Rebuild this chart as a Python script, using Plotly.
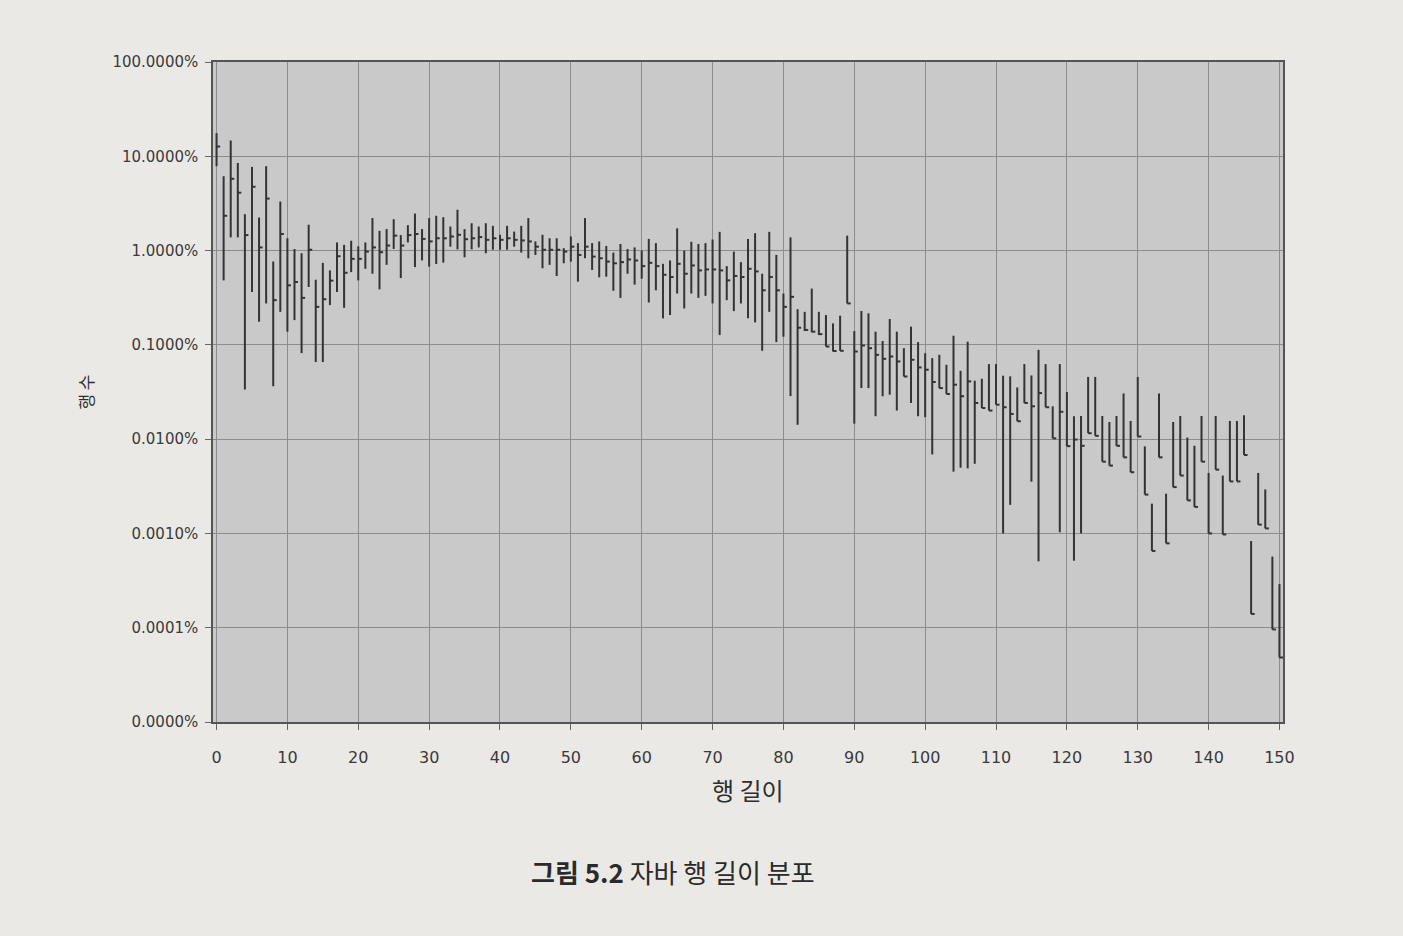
import plotly.graph_objects as go

# line length categories
line_length = list(range(0, 151))

# share of lines (percent): high, low, close
high = [17.6, 6.15, 14.7, 8.5, 2.43, 7.72, 2.24, 7.85, 0.766, 3.31,
        1.35, 1.04, 0.937, 1.88, 0.491, 0.741, 0.616, 1.22, 1.15, 1.27,
        1.11, 1.22, 2.21, 1.62, 1.69, 2.15, 1.46, 1.86, 2.47, 1.69,
        2.21, 2.34, 2.26, 1.80, 2.71, 1.69, 1.95, 1.80, 1.95, 1.83,
        1.47, 1.83, 1.59, 1.83, 2.21, 1.25, 1.47, 1.35, 1.35, 1.06,
        1.41, 1.20, 2.21, 1.20, 1.25, 1.12, 0.952, 1.175, 1.04, 1.08,
        1.0, 1.33, 1.20, 0.724, 0.785, 1.72, 1.0, 1.24, 1.175, 1.20,
        1.31, 1.58, 0.684, 0.976, 0.754, 1.33, 1.53, 0.568, 1.58, 0.900,
        0.350, 1.38, 0.239, 0.224, 0.395, 0.224, 0.207, 0.169, 0.204, 1.44,
        0.140, 0.229, 0.216, 0.138, 0.110, 0.188, 0.138, 0.0922, 0.156, 0.107,
        0.0816, 0.0723, 0.0784, 0.0615, 0.125, 0.0531, 0.108, 0.0417, 0.0437, 0.0625,
        0.0625, 0.0471, 0.0463, 0.0354, 0.0625, 0.0474, 0.0885, 0.0625, 0.0223, 0.0625,
        0.0316, 0.0175, 0.0176, 0.0457, 0.0457, 0.0176, 0.0152, 0.0176, 0.0305, 0.0156,
        0.0457, 0.00838, 0.00207, 0.0305, 0.00264, 0.0152, 0.0176, 0.0104, 0.0085, 0.0176,
        0.00438, 0.0176, 0.00411, 0.0156, 0.0156, 0.0179, 0.00083, 0.00438, 0.00293, 0.000568,
        0.00029]
low = [7.85, 0.483, 1.38, 1.38, 0.0336, 0.364, 0.176, 0.275, 0.0364, 0.224,
       0.138, 0.183, 0.0817, 0.411, 0.0657, 0.0657, 0.264, 0.364, 0.247, 0.591,
       0.483, 0.641, 0.568, 0.388, 0.706, 1.04, 0.511, 1.22, 0.668, 0.785,
       0.676, 0.721, 0.745, 1.10, 1.03, 0.849, 1.03, 1.08, 0.937, 1.02,
       1.02, 1.02, 1.10, 0.952, 0.829, 0.899, 0.649, 0.705, 0.538, 0.733,
       0.764, 0.468, 0.829, 0.623, 0.520, 0.529, 0.375, 0.315, 0.568, 0.435,
       0.503, 0.281, 0.379, 0.191, 0.207, 0.350, 0.243, 0.350, 0.315, 0.331,
       0.275, 0.127, 0.298, 0.228, 0.275, 0.191, 0.173, 0.0865, 0.224, 0.107,
       0.122, 0.0286, 0.0142, 0.140, 0.136, 0.127, 0.096, 0.085, 0.0865, 0.275,
       0.0146, 0.0348, 0.0348, 0.0175, 0.0285, 0.0296, 0.0201, 0.0462, 0.0242, 0.0175,
       0.0171, 0.00689, 0.0348, 0.0301, 0.00452, 0.00498, 0.0049, 0.00548, 0.0214, 0.0201,
       0.0232, 0.001, 0.00201, 0.0155, 0.0242, 0.00354, 0.000506, 0.0218, 0.0102, 0.00103,
       0.00843, 0.000514, 0.001, 0.01156, 0.01084, 0.00577, 0.00524, 0.0085, 0.00641, 0.00446,
       0.01067, 0.00258, 0.000652, 0.00641, 0.000785, 0.0031, 0.00411, 0.00224, 0.00191, 0.00577,
       0.001, 0.00475, 0.000976, 0.00356, 0.00356, 0.00679, 0.00014, 0.00124, 0.00113, 0.0000959,
       0.0000483]
close = [12.7, 2.34, 5.77, 4.11, 1.46, 4.75, 1.08, 3.56, 0.298, 1.50,
         0.428, 0.464, 0.315, 1.02, 0.253, 0.305, 0.480, 0.871, 0.582, 0.817,
         0.817, 0.976, 1.08, 0.960, 1.13, 1.44, 1.13, 1.46, 1.50, 1.33,
         1.25, 1.35, 1.35, 1.41, 1.47, 1.32, 1.35, 1.39, 1.30, 1.35,
         1.30, 1.35, 1.30, 1.28, 1.25, 1.10, 1.02, 1.02, 1.02, 0.976,
         1.10, 0.899, 1.10, 0.863, 0.829, 0.764, 0.733, 0.754, 0.804, 0.785,
         0.684, 0.741, 0.684, 0.554, 0.524, 0.724, 0.568, 0.695, 0.616, 0.631,
         0.631, 0.616, 0.483, 0.537, 0.524, 0.641, 0.601, 0.379, 0.524, 0.379,
         0.253, 0.323, 0.152, 0.144, 0.138, 0.130, 0.096, 0.086, 0.0865, 0.275,
         0.085, 0.0984, 0.0922, 0.0784, 0.0711, 0.0753, 0.0667, 0.0462, 0.0695, 0.0576,
         0.0545, 0.0404, 0.0348, 0.0301, 0.0378, 0.0285, 0.041, 0.0242, 0.0214, 0.0201,
         0.0232, 0.0218, 0.0185, 0.0155, 0.0242, 0.0223, 0.0308, 0.0218, 0.0102, 0.0195,
         0.00843, 0.0099, 0.0085, 0.01156, 0.01084, 0.00577, 0.00524, 0.0085, 0.00641, 0.00446,
         0.01067, 0.00258, 0.000652, 0.00641, 0.000785, 0.0031, 0.00411, 0.00224, 0.00191, 0.00577,
         0.001, 0.00475, 0.000976, 0.00356, 0.00356, 0.00679, 0.00014, 0.00124, 0.00113, 0.0000959,
         0.0000483]

y_tick_vals = [100, 10, 1, 0.1, 0.01, 0.001, 0.0001, 0.00001]
y_tick_text = ["100.0000%", "10.0000%", "1.0000%", "0.1000%", "0.0100%",
               "0.0010%", "0.0001%", "0.0000%"]
x_tick_vals = list(range(0, 151, 10))

x_title = "행 길이"
y_title = "행 수"
caption = "<b>그림 5.2</b> 자바 행 길이 분포"

TICK = 0.5  # length of the close tick, in x units
bar_color = "#333333"
page_color = "#ebe9e6"

bx, by, tx, ty = [], [], [], []
for x, h, l, c in zip(line_length, high, low, close):
    bx += [x, x, None]
    by += [l, h, None]
    tx += [x, x + TICK, None]
    ty += [c, c, None]

fig = go.Figure()
fig.add_trace(go.Scatter(x=bx, y=by, mode="lines",
                         line=dict(color=bar_color, width=2), showlegend=False,
                         hoverinfo="skip"))
fig.add_trace(go.Scatter(x=tx, y=ty, mode="lines",
                         line=dict(color=bar_color, width=2), showlegend=False,
                         hoverinfo="skip"))

font_main = "DejaVu Sans, Verdana, sans-serif"
font_kr = "Noto Sans CJK KR, sans-serif"

fig.update_layout(
    width=1403, height=936,
    margin=dict(l=213, r=120, t=62, b=214),
    paper_bgcolor=page_color,
    plot_bgcolor="#c9c9c9",
    showlegend=False,
    xaxis=dict(
        range=[-0.5, 150.5],
        tickvals=x_tick_vals,
        showgrid=True, gridcolor="#8c8c8c", gridwidth=1,
        zeroline=False,
        showline=True, linecolor="#555555", linewidth=1.5, mirror=True,
        ticks="outside", ticklen=6, tickcolor="#666666",
        tickfont=dict(family=font_main, size=16, color="#3a3a3a"),
        ticklabelstandoff=14,
    ),
    yaxis=dict(
        type="log",
        range=[-5, 2],
        tickvals=y_tick_vals,
        ticktext=y_tick_text,
        showgrid=True, gridcolor="#8c8c8c", gridwidth=1,
        zeroline=False,
        showline=True, linecolor="#555555", linewidth=1.5, mirror=True,
        ticks="outside", ticklen=6, tickcolor="#666666",
        tickfont=dict(family=font_main, size=15, color="#3a3a3a"),
        ticklabelstandoff=4,
    ),
    annotations=[
        dict(text=x_title, xref="paper", yref="paper", x=0.50, y=-0.103,
             xanchor="center", yanchor="middle", showarrow=False,
             font=dict(family=font_kr, size=24, color="#2e2e2e")),
        dict(text=y_title, xref="paper", yref="paper", x=-0.12, y=0.50,
             xanchor="center", yanchor="middle", showarrow=False, textangle=-90,
             font=dict(family=font_kr, size=17, color="#2e2e2e")),
        dict(text=caption, xref="paper", yref="paper", x=0.43, y=-0.227,
             xanchor="center", yanchor="middle", showarrow=False,
             font=dict(family=font_kr, size=26, color="#2a2a2a")),
    ],
)

fig.write_html(
    "out.html",
    config={"displayModeBar": False},
    post_script="document.body.style.margin='0';"
                "document.body.style.background='" + page_color + "';",
)
